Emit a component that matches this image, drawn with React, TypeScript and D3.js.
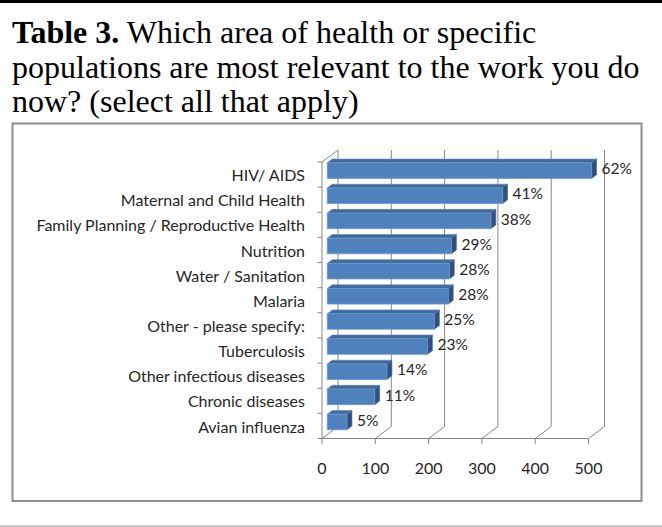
import React from "react";
import * as d3 from "d3";

const categories = [
  "HIV/ AIDS",
  "Maternal and Child Health",
  "Family Planning / Reproductive Health",
  "Nutrition",
  "Water / Sanitation",
  "Malaria",
  "Other - please specify:",
  "Tuberculosis",
  "Other infectious diseases",
  "Chronic diseases",
  "Avian influenza",
];
const counts = [496, 329, 307, 233, 229, 227, 201, 188, 112, 89, 37];
const percentLabels = ["62%", "41%", "38%", "29%", "28%", "28%", "25%", "23%", "14%", "11%", "5%"];
const xTicks = [0, 100, 200, 300, 400, 500];
const titleBold = "Table 3.";
const titleLines = [
  " Which area of health or specific",
  "populations are most relevant to the work you do",
  "now? (select all that apply)",
];

const W = 662;
const H = 527;
// 3D depth offset of the plot
const DX = 16;
const DY = -12;
const Z0 = 0.33;
const Z1 = 0.64;

export default function App() {
  const x = d3.scaleLinear().domain([0, 500]).range([322, 588.5]);
  const y = d3
    .scaleBand<string>()
    .domain(categories)
    .range([162, 438.5])
    .paddingInner(0.38)
    .paddingOuter(0.19);
  const step = y.step();
  const top = 162;
  const bottom = 438.5;
  const grid = "#868686";
  const labelFont = "Lato, 'Open Sans', sans-serif";

  const p = (px: number, py: number, z: number) => [px + DX * z, py + DY * z];
  const pts = (arr: number[][]) => arr.map((a) => a.join(",")).join(" ");

  return (
    <svg
      width={W}
      height={H}
      style={{ position: "absolute", left: 0, top: 0, background: "#fff" }}
    >
      <rect x={0} y={0} width={W} height={3} fill="#000" />
      <rect x={0} y={525} width={W} height={2} fill="#c8c8c8" />
      <text
        fontFamily="'Liberation Serif', 'Times New Roman', serif"
        fontSize={32}
        fill="#000"
      >
        <tspan x={12} y={43}>
          <tspan fontWeight="bold">{titleBold}</tspan>
          {titleLines[0]}
        </tspan>
        <tspan x={12} y={78}>{titleLines[1]}</tspan>
        <tspan x={12} y={112}>{titleLines[2]}</tspan>
      </text>
      <rect
        x={12.5}
        y={123.5}
        width={629}
        height={377.5}
        fill="#fff"
        stroke="#8c8c8c"
        strokeWidth={2}
      />
      {/* back wall gridlines and floor diagonals */}
      <g stroke={grid} strokeWidth={1} fill="none">
        {xTicks.map((t) => (
          <g key={t}>
            <line x1={x(t) + DX} y1={top + DY} x2={x(t) + DX} y2={bottom + DY} />
            <line x1={x(t) + DX} y1={bottom + DY} x2={x(t)} y2={bottom} />
            <line x1={x(t)} y1={bottom} x2={x(t)} y2={bottom + 5.5} />
          </g>
        ))}
        <line x1={x(0)} y1={top} x2={x(0) + DX} y2={top + DY} />
        <line x1={x(0)} y1={top} x2={x(0)} y2={bottom} />
        <line x1={x(0)} y1={bottom} x2={x(500)} y2={bottom} />
        {d3.range(categories.length + 1).map((i) => (
          <line key={i} x1={x(0) - 4.5} y1={top + i * step} x2={x(0)} y2={top + i * step} />
        ))}
      </g>
      {/* bars */}
      {categories.map((c, i) => {
        const y0 = y(c)!;
        const y1 = y0 + y.bandwidth();
        const xa = x(0);
        const xb = x(counts[i]);
        const front = [p(xa, y0, Z0), p(xb, y0, Z0), p(xb, y1, Z0), p(xa, y1, Z0)];
        const topFace = [p(xa, y0, Z0), p(xb, y0, Z0), p(xb, y0, Z1), p(xa, y0, Z1)];
        const side = [p(xb, y0, Z0), p(xb, y0, Z1), p(xb, y1, Z1), p(xb, y1, Z0)];
        const lab = p(xb, (y0 + y1) / 2, Z1);
        return (
          <g key={c}>
            <polygon points={pts(topFace)} fill="#3f6a9f" stroke="#5a84b8" strokeWidth={0.6} />
            <polygon points={pts(side)} fill="#2f5080" stroke="#4a6e9c" strokeWidth={0.6} />
            <polygon points={pts(front)} fill="#4f81bd" stroke="#6d97c9" strokeWidth={0.8} />
            <text
              x={lab[0] + 5}
              y={lab[1] + 2}
              dy="0.35em"
              fontFamily={labelFont}
              fontSize={15.5}
              fill="#262626"
            >
              {percentLabels[i]}
            </text>
          </g>
        );
      })}
      {/* category labels */}
      {categories.map((c) => (
        <text
          key={c}
          x={305}
          y={y(c)! + y.bandwidth() / 2 + 1}
          dy="0.35em"
          textAnchor="end"
          fontFamily={labelFont}
          fontSize={16}
          fill="#262626"
        >
          {c}
        </text>
      ))}
      {xTicks.map((t) => (
        <text
          key={t}
          x={x(t)}
          y={468}
          dy="0.35em"
          textAnchor="middle"
          fontFamily={labelFont}
          fontSize={16}
          fill="#262626"
        >
          {t}
        </text>
      ))}
    </svg>
  );
}
